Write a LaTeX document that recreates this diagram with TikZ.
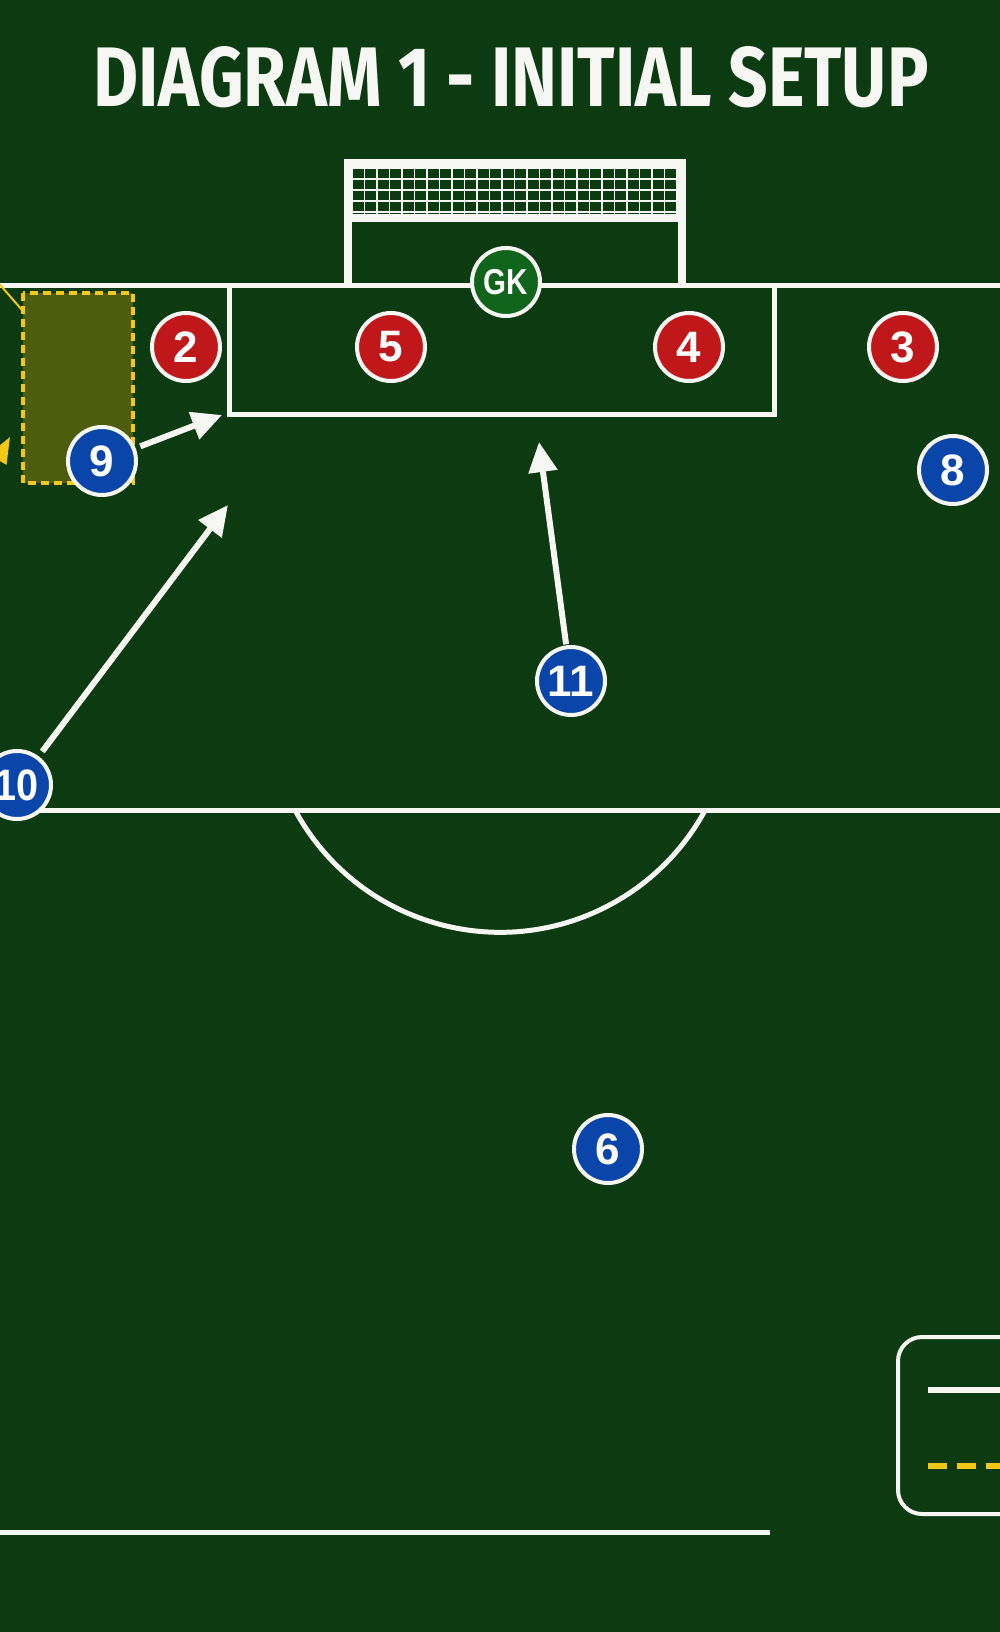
\documentclass[tikz,border=0pt]{standalone}
\usepackage{fontspec}
\setmainfont{Liberation Sans}
\newfontfamily\titlefont{Fira Sans}
\usetikzlibrary{arrows.meta}
\definecolor{pitch}{RGB}{12,58,17}
\definecolor{redp}{RGB}{192,24,26}
\definecolor{bluep}{RGB}{10,70,170}
\definecolor{gkg}{RGB}{16,100,28}
\definecolor{zoney}{RGB}{245,200,24}
\definecolor{olivez}{RGB}{78,92,14}
\definecolor{lineW}{RGB}{246,246,242}
\tikzset{
  player/.style={circle, draw=lineW, line width=4pt, minimum size=68pt, inner sep=0pt, text=white, font=\fontsize{44}{44}\selectfont\bfseries},
  redpl/.style={player, fill=redp},
  bluepl/.style={player, fill=bluep},
  gkpl/.style={player, fill=gkg, font=\fontsize{36}{36}\selectfont\bfseries},
  pline/.style={draw=lineW, line width=5pt},
  goalline/.style={draw=lineW, line width=8pt},
  netline/.style={draw=lineW, line width=1.3pt},
  runarrow/.style={draw=lineW, line width=6pt, -{Triangle[length=30pt,width=28pt]}},
  yarrow/.style={draw=zoney, line width=3pt, -{Triangle[length=26pt,width=20pt]}},
  zonebox/.style={draw=zoney, line width=4pt, dash pattern=on 8pt off 5pt, fill=olivez},
  titletext/.style={text=lineW, inner sep=0pt},
}
\begin{document}
\begin{tikzpicture}[x=1pt,y=-1pt]
\useasboundingbox (0,0) rectangle (1000,1632);
\fill[pitch] (0,0) rectangle (1000,1632);
\begin{scope}
\clip (0,0) rectangle (1000,1632);
% title
\node[titletext] (title) at (511,77) {\resizebox{835pt}{60pt}{\titlefont\bfseries DIAGRAM 1 - INITIAL SETUP}};
% goal net
\foreach \i in {0,...,26} \draw[netline] ({352+\i*12.5},167) -- ({352+\i*12.5},214);
\foreach \j in {168,179,190,201,212} \draw[netline] (352,\j) -- (678,\j);
\draw[goalline] (348,285) -- (348,163) -- (682,163) -- (682,285);
\draw[goalline] (348,218) -- (682,218);
% pitch lines
\draw[pline] (0,285) -- (1000,285);
\draw[pline] (229,285) -- (229,414) -- (774,414) -- (774,285);
\draw[pline] (0,810) -- (1000,810);
\draw[pline] (295,810) arc[start angle=208.4, end angle=331.6, radius=233.2pt];
\draw[pline] (0,1532) -- (770,1532);
% zone
\draw[zonebox] (23,293) rectangle (133,483);
\draw[zoney, line width=2pt] (-5,279) -- (22,310);
\coordinate (ys) at (-22,495);
\coordinate (ye) at (10,437);
\draw[yarrow] (ys) -- (ye);
% legend
\draw[draw=lineW, line width=4pt, rounded corners=24pt] (898,1337) rectangle (1060,1514);
\draw[draw=lineW, line width=6pt] (928,1390) -- (1010,1390);
\draw[draw=zoney, line width=6pt, dash pattern=on 19pt off 10pt] (928,1466) -- (1010,1466);
% players
\node[gkpl] (gk) at (506,282) {\scalebox{0.82}[1]{GK}};
\node[redpl] (p2) at (186,347) {2};
\node[redpl] (p5) at (391,347) {5};
\node[redpl] (p4) at (689,347) {4};
\node[redpl] (p3) at (903,347) {3};
\node[bluepl] (p9) at (102,461) {9};
\node[bluepl] (p8) at (953,470) {8};
\node[bluepl] (p11) at (571,681) {11};
\node[bluepl] (p10) at (17,785) {\scalebox{0.9}[1]{10}};
\node[bluepl] (p6) at (608,1149) {6};
% runs
\coordinate (t9) at (222,415);
\coordinate (t10) at (228,505);
\coordinate (t11) at (539,442);
\draw[runarrow, shorten <=5pt] (p9) -- (t9);
\draw[runarrow, shorten <=6pt] (p10) -- (t10);
\draw[runarrow, shorten <=1pt] (p11) -- (t11);
\end{scope}
\end{tikzpicture}
\end{document}
